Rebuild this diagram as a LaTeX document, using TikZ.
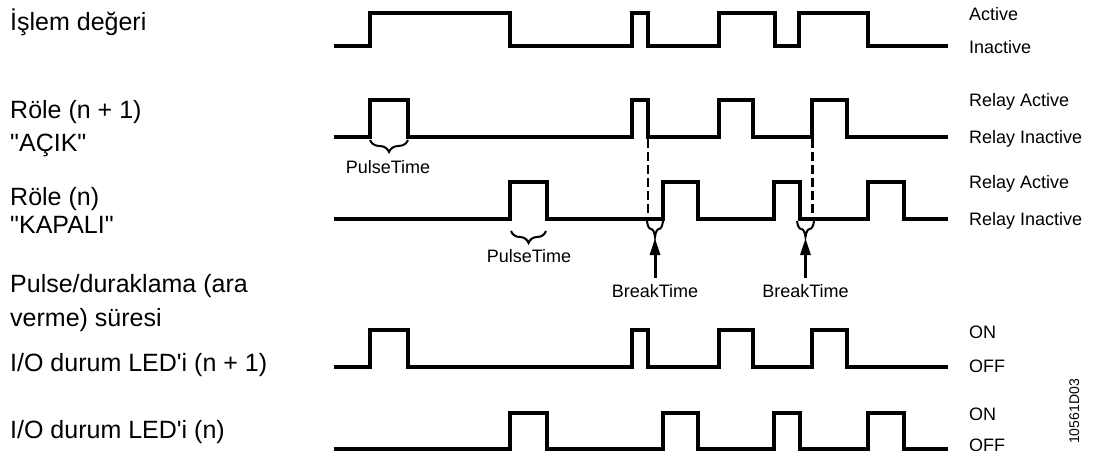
\documentclass[tikz,border=0pt]{standalone}
\usepackage{fontspec}
\setmainfont{Liberation Sans}
\usetikzlibrary{arrows.meta,decorations.pathreplacing}

\begin{document}
\begin{tikzpicture}[
    x=1pt, y=-1pt,
    wave/.style={line width=3.2pt, line join=miter},
    lefttext/.style={anchor=base west, inner sep=0pt, font=\fontsize{25}{30}\selectfont},
    righttext/.style={anchor=base west, inner sep=0pt, font=\fontsize{18}{22}\selectfont},
    timetext/.style={anchor=base, inner sep=0pt, font=\fontsize{18}{22}\selectfont},
    timebrace/.style={decorate, decoration={brace, mirror, amplitude=#1}, line width=2pt},
    dashline/.style={line width=2.6pt, dash pattern=on 9pt off 4pt},
    arrow/.style={-{Triangle[length=17pt,width=10pt]}, line width=3pt}
]
\useasboundingbox (0,0) rectangle (1097,455);

% Left labels
\node[lefttext] (islem) at (10,30.7) {İşlem değeri};
\node[lefttext] (role1a) at (10,118.3) {Röle (n + 1)};
\node[lefttext] (role1b) at (10,151.7) {\textquotedbl AÇIK\textquotedbl};
\node[lefttext] (role0a) at (10,205) {Röle (n)};
\node[lefttext] (role0b) at (10,233.3) {\textquotedbl KAPALI\textquotedbl};
\node[lefttext] (pulsea) at (10,292.7) {Pulse/duraklama (ara};
\node[lefttext] (pulseb) at (10,326.7) {verme) süresi};
\node[lefttext] (led1) at (10,371.7) {I/O durum LED\textquotesingle i (n + 1)};
\node[lefttext] (led0) at (10,438.3) {I/O durum LED\textquotesingle i (n)};

% Waveforms
\foreach \lo/\hi/\edges in {
    46/13/{370/510,632/648,719/775,799/868},
    137/100/{370/408,632/648,719/753,812/847},
    219/182/{510/547,663/698,774/800,868/904},
    367/330/{370/408,632/648,719/753,812/847},
    449/413/{510/547,663/698,774/800,868/904}}
  \draw[wave] (334,\lo) \foreach \a/\b in \edges {-- (\a,\lo) -- (\a,\hi) -- (\b,\hi) -- (\b,\lo)} -- (948,\lo);

% Right labels
\node[righttext] (act) at (969,20) {Active};
\node[righttext] (inact) at (969,53.5) {Inactive};
\node[righttext] (ract1) at (969,106.5) {Relay Active};
\node[righttext] (rinact1) at (969,143) {Relay Inactive};
\node[righttext] (ract0) at (969,188.5) {Relay Active};
\node[righttext] (rinact0) at (969,225) {Relay Inactive};
\node[righttext] (on1) at (969,338) {ON};
\node[righttext] (off1) at (969,372) {OFF};
\node[righttext] (on0) at (969,420) {ON};
\node[righttext] (off0) at (969,451) {OFF};

% Pulse times
\draw[timebrace=12] (370,140) -- (408,140);
\draw[timebrace=12] (511,231) -- (546,231);
\node[timetext] (pulse1) at (388,173) {PulseTime};
\node[timetext] (pulse2) at (529,262) {PulseTime};

% Break times
\draw[dashline] (648,139) -- (648,221);
\draw[dashline] (812.5,139) -- (812.5,221);
\draw[timebrace=16] (647,221) -- (663,221);
\draw[timebrace=16] (797,221) -- (814,221);
\coordinate (tip1) at (655,238);
\coordinate (tip2) at (805.5,238);
\node[timetext] (break1) at (655,297) {BreakTime};
\node[timetext] (break2) at (805.5,297) {BreakTime};
\draw[arrow] ([yshift=6pt]break1.north) -- (tip1);
\draw[arrow] ([yshift=6pt]break2.north) -- (tip2);

% Figure code
\node[anchor=base west, inner sep=0pt, rotate=90, font=\fontsize{14}{16}\selectfont] (code) at (1079,444) {10561D03};

\end{tikzpicture}
\end{document}
